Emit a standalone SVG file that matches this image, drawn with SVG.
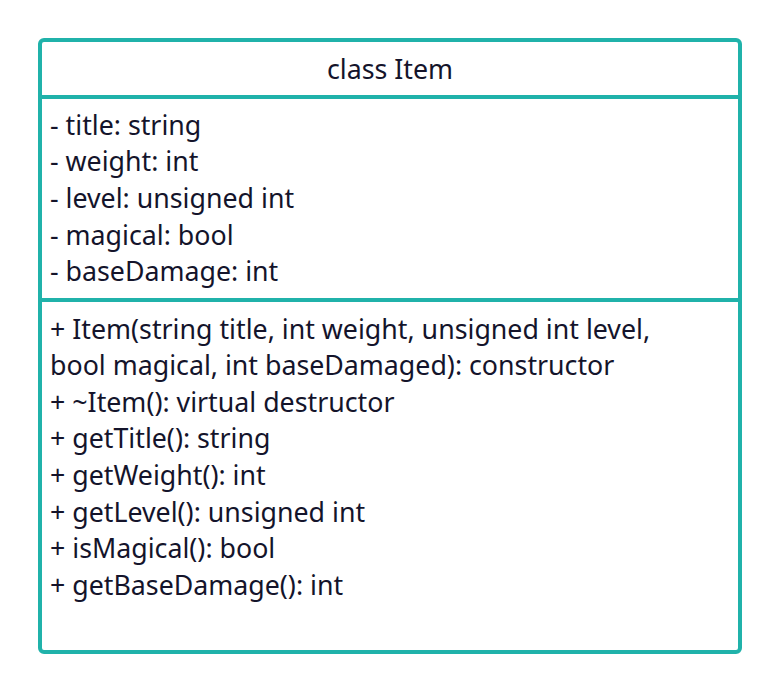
<svg xmlns="http://www.w3.org/2000/svg" width="780" height="692" viewBox="0 0 780 692">
  <style>
    .box { fill: #ffffff; stroke: #20b2aa; stroke-width: 4; }
    .sep { stroke: #20b2aa; stroke-width: 4; }
    .t { font-family: "Noto Sans", "Open Sans", sans-serif; font-size: 26.75px; fill: #14142b; }
    .title { text-anchor: middle; }
  </style>
  <rect width="780" height="692" fill="#ffffff"/>
  <g id="class-item">
    <rect class="box" x="40" y="40" width="700" height="612" rx="4" ry="4"/>
    <line class="sep" x1="40" y1="97" x2="740" y2="97"/>
    <line class="sep" x1="40" y1="300" x2="740" y2="300"/>
    <text class="t title" x="390" y="79">class Item</text>
    <g id="attributes">
      <text class="t" x="50" y="135">- title: string</text>
      <text class="t" x="50" y="171">- weight: int</text>
      <text class="t" x="50" y="208">- level: unsigned int</text>
      <text class="t" x="50" y="245">- magical: bool</text>
      <text class="t" x="50" y="281">- baseDamage: int</text>
    </g>
    <g id="methods">
      <text class="t" x="50" y="339">+ Item(string title, int weight, unsigned int level,</text>
      <text class="t" x="50" y="375">bool magical, int baseDamaged): constructor</text>
      <text class="t" x="50" y="412">+ ~Item(): virtual destructor</text>
      <text class="t" x="50" y="448">+ getTitle(): string</text>
      <text class="t" x="50" y="485">+ getWeight(): int</text>
      <text class="t" x="50" y="522">+ getLevel(): unsigned int</text>
      <text class="t" x="50" y="558">+ isMagical(): bool</text>
      <text class="t" x="50" y="595">+ getBaseDamage(): int</text>
    </g>
  </g>
  <g id="connectors"/>
</svg>
